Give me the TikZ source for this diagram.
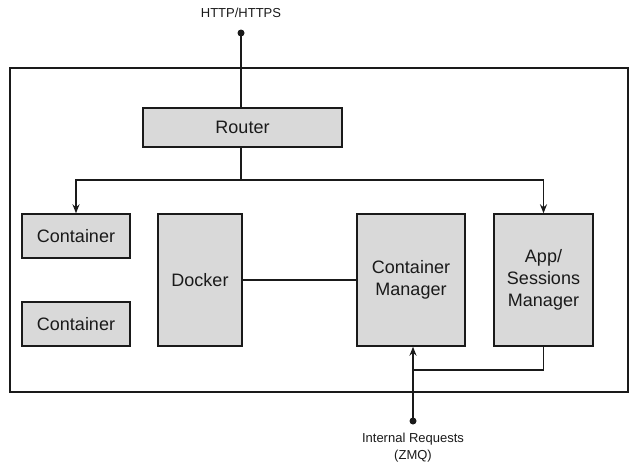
\documentclass[tikz,border=0pt]{standalone}
\usepackage{fontspec}
\setmainfont{Liberation Sans}
\usetikzlibrary{arrows.meta}
\definecolor{boxgray}{HTML}{D9D9D9}
\definecolor{ink}{HTML}{1A1A1A}
\begin{document}
\begin{tikzpicture}[x=1pt,y=-1pt,
  blk/.style={draw=ink,fill=boxgray,line width=1.4pt,rectangle,inner sep=0pt,
    font=\fontsize{18}{22}\selectfont,text=ink,align=center},
  wire/.style={draw=ink,line width=1.4pt},
  arr/.style={wire,-{Stealth[length=9pt,width=7pt,inset=3pt]}},
  lbl/.style={font=\fontsize{13}{17}\selectfont,text=ink,align=center,inner sep=0pt},
  dotend/.style={circle,fill=ink,inner sep=0pt,minimum size=7pt}]
\useasboundingbox (0,0) rectangle (640,471);
\draw[wire] (10,68) rectangle (628,392);
\node[lbl] (http) at (241,13) {HTTP/HTTPS};
\node[dotend] (d1) at (241,33) {};
\node[blk,minimum width=199pt,minimum height=39pt] (router) at (242.5,127.5) {Router};
\node[blk,minimum width=108pt,minimum height=44pt] (c1) at (76,236) {Container};
\node[blk,minimum width=108pt,minimum height=44pt] (c2) at (76,324) {Container};
\node[blk,minimum width=84pt,minimum height=132pt] (docker) at (200,280) {Docker};
\node[blk,minimum width=108pt,minimum height=132pt] (cm) at (411,280) {Container\\Manager};
\node[blk,minimum width=99pt,minimum height=132pt] (app) at (543.5,280) {App/\\Sessions\\Manager};
\node[dotend] (d2) at (413,421) {};
\node[lbl] (zmq) at (413,448) {Internal Requests\\(ZMQ)};
\coordinate (j) at (241,180);
\draw[wire] (d1.center) -- (router.north -| d1);
\draw[wire] (router.south -| j) -- (j);
\draw[arr] (j) -| (c1.north);
\draw[arr] (j) -| (app.north);
\draw[wire] (docker.east) -- (cm.west);
\coordinate (k) at (413,370);
\draw[wire] (app.south) |- (k);
\draw[arr] (d2.center) -- (cm.south -| d2);
\end{tikzpicture}
\end{document}
